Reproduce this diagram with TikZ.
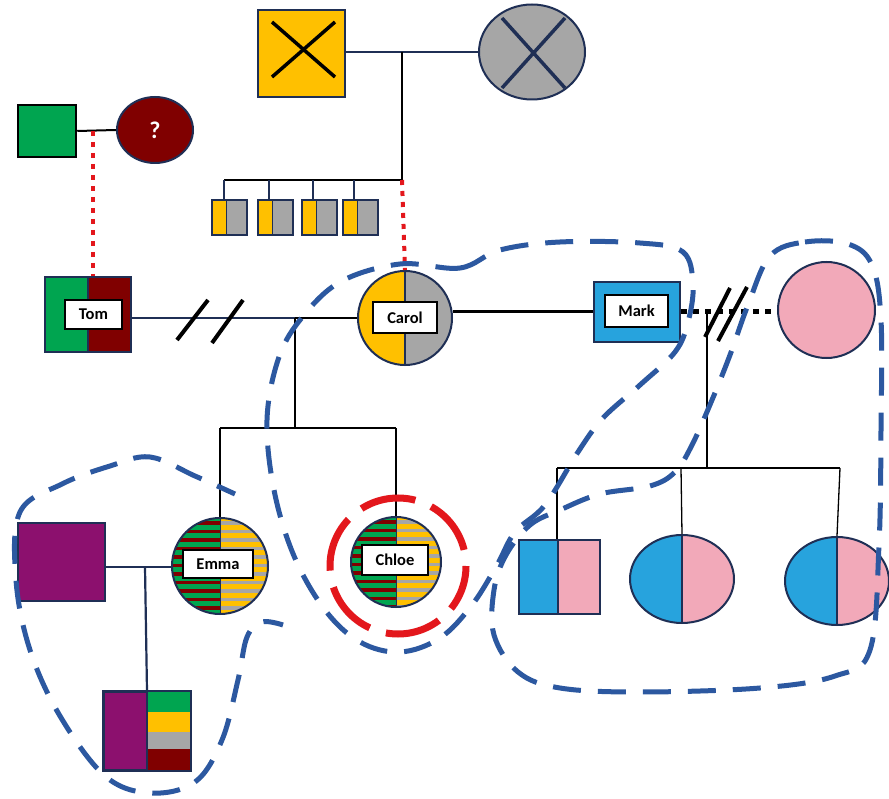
\documentclass[tikz,border=0pt]{standalone}
\usepackage{fontspec}
\setmainfont{Carlito}
\usetikzlibrary{calc,shapes.geometric}
\definecolor{corange}{HTML}{FFC000}
\definecolor{cgray}{HTML}{A6A6A6}
\definecolor{cgreen}{HTML}{00A550}
\definecolor{cdred}{HTML}{800000}
\definecolor{cnavy}{HTML}{1F2F55}
\definecolor{cblue}{HTML}{27A3DD}
\definecolor{cpink}{HTML}{F2A9B9}
\definecolor{cpurple}{HTML}{8C106E}
\definecolor{cdash}{HTML}{2C58A0}
\definecolor{cred}{HTML}{E3171C}
\tikzset{
  person/.style={draw=cnavy, line width=2pt, inner sep=0pt},
  sq/.style 2 args={person, rectangle, minimum width=#1, minimum height=#2},
  el/.style 2 args={person, ellipse, minimum width=#1, minimum height=#2},
  halfLR/.style 2 args={path picture={
     \fill[#1] (path picture bounding box.south west) rectangle (path picture bounding box.north);
     \fill[#2] (path picture bounding box.south) rectangle (path picture bounding box.north east);
     \draw[cnavy, line width=1.5pt] (path picture bounding box.north) -- (path picture bounding box.south);}},
  striped/.style={path picture={
     \fill[cgreen] (path picture bounding box.south west) rectangle (path picture bounding box.north);
     \fill[corange] (path picture bounding box.south) rectangle (path picture bounding box.north east);
     \foreach \k in {0,...,13}{
       \fill[cdred] ([yshift=-\k*8.5pt-3pt]path picture bounding box.north west) rectangle ([yshift=-\k*8.5pt-6.5pt]path picture bounding box.north);
       \fill[cgray] ([yshift=-\k*8.5pt-3pt]path picture bounding box.north) rectangle ([yshift=-\k*8.5pt-6.5pt]path picture bounding box.north east);
     }
     \draw[cnavy, line width=1pt] (path picture bounding box.north) -- (path picture bounding box.south);}},
  lab/.style 2 args={draw=black, line width=2.5pt, fill=white, inner sep=0pt, minimum width=#1, minimum height=#2, font=\bfseries\fontsize{16.5}{17}\selectfont},
  conn/.style={cnavy, line width=2.2pt},
  bconn/.style={black, line width=2.5pt},
  thin/.style={black, line width=1.3pt},
  reddot/.style={cred, line width=4pt, dash pattern=on 5pt off 6pt},
  blkdot/.style={black, line width=5pt, dash pattern=on 6pt off 6pt},
  slash/.style={black, line width=4pt},
  outline/.style={cdash, line width=5pt, dash pattern=on 28pt off 17pt},
}
\begin{document}
\begin{tikzpicture}[x=1pt,y=-1pt]
\useasboundingbox (0,0) rectangle (889,799);
\fill[white] (0,0) rectangle (889,799);

% ---------- grandparents ----------
\node[sq={87pt}{87pt}, fill=corange] (gf) at (301.5,53.5) {};
\node[el={106pt}{95pt}, fill=cgray] (gm) at (532,52) {};
\draw[black, line width=3.5pt] (272,22) -- (335,77) (335,22) -- (272,77);
\draw[cnavy, line width=3.5pt] (502,18) -- (565,88) (565,18) -- (502,88);
\coordinate (gj) at (402,52);
\coordinate (gs) at (402,180);
\draw[conn] (gf.east |- gj) -- (gm.west |- gj);
\draw[bconn] (gj) -- (gs);

% sibship of small boxes
\coordinate (s1) at (224,180);
\draw[bconn] (s1) -- (gs);
\foreach \i/\x/\cx in {1/224/229.5,2/269/275.5,3/313/319.5,4/354/360.5}{
  \node[sq={35pt}{35pt}, fill=cgray, path picture={\fill[corange] (path picture bounding box.south west) rectangle ([xshift=-3pt]path picture bounding box.north); \draw[cnavy,line width=1.5pt] ([xshift=-3pt]path picture bounding box.north) -- ([xshift=-3pt]path picture bounding box.south);}] (sb\i) at (\cx,217.5) {};
  \draw[conn] (\x,180) -- (\x,200);
}

% ---------- Tom's parents ----------
\node[sq={58pt}{52pt}, fill=cgreen, draw=black, line width=2.5pt] (tf) at (47,131) {};
\node[el={76pt}{66pt}, fill=cdred] (tm) at (155,130) {};
\node[text=white, font=\bfseries\fontsize{24}{24}\selectfont] at (tm) {?};
\draw[black, line width=2pt] (tf.east) -- (tm.west);
\coordinate (tj) at (93,131);

% ---------- Tom ----------
\node[sq={86pt}{75pt}, halfLR={cgreen}{cdred}] (tom) at (88,314.5) {};
\node[lab={57pt}{29pt}] (toml) at (93.5,314.5) {Tom};
\draw[reddot] (tj) -- (tj |- tom.north);

% ---------- Carol ----------
\node[person, circle, minimum size=94pt, halfLR={corange}{cgray}] (carol) at (405,318) {};
\node[lab={64pt}{31pt}] (caroll) at (405,317.5) {Carol};
\draw[reddot] (gs) -- (carol.north);

% Tom -- Carol
\coordinate (tc) at (295,318);
\draw[conn] (tom.east |- tc) -- (tc);
\draw[bconn] (tc) -- (carol.west);
\draw[slash] (177,340) -- (208,300) (212,343) -- (243,300);

% ---------- Mark ----------
\node[sq={86pt}{60pt}, fill=cblue] (mark) at (637,312) {};
\node[lab={63pt}{32pt}] (markl) at (636.5,311) {Mark};
\draw[bconn, line width=3pt] (carol.east |- mark.west) -- (mark.west);

% ---------- pink partner ----------
\node[el={97pt}{96pt}, fill=cpink] (pink) at (826.5,310) {};
\draw[blkdot] (mark.east) -- (pink.west |- mark.east);
\draw[slash] (705,337) -- (730,288) (718,341) -- (747,287);
\coordinate (mj) at (707,312);
\coordinate (ms) at (707,468);
\draw[thin] (mj) -- (ms);
\coordinate (ms1) at (557,468);
\coordinate (ms3) at (840,468);
\draw[thin] (ms1) -- (ms3);

% ---------- Mark's children ----------
\node[sq={81pt}{74pt}, fill=cpink, path picture={\fill[cblue] (path picture bounding box.south west) rectangle ([xshift=-1.5pt]path picture bounding box.north); \draw[cnavy,line width=1.5pt] ([xshift=-1.5pt]path picture bounding box.north) -- ([xshift=-1.5pt]path picture bounding box.south);}] (c1) at (559.5,577) {};
\node[el={104pt}{88pt}, halfLR={cblue}{cpink}] (c2) at (682,579) {};
\node[el={104pt}{88pt}, halfLR={cblue}{cpink}] (c3) at (837,581) {};
\draw[thin] (ms1) -- (ms1 |- c1.north);
\draw[thin] (681,468) -- (c2.north);
\draw[thin] (ms3) -- (c3.north);

% ---------- Emma and Chloe ----------
\node[person, circle, minimum size=96pt, striped] (emma) at (220,566) {};
\node[lab={70pt}{28pt}] (emmal) at (218,564) {Emma};
\node[person, circle, minimum size=90pt, striped] (chloe) at (396,562) {};
\node[lab={66pt}{30pt}] (chloel) at (395,560) {Chloe};
\coordinate (cs) at (295,428);
\coordinate (cs1) at (220,428);
\coordinate (cs2) at (396,428);
\draw[bconn] (tc) -- (cs);
\draw[bconn] (cs1) -- (cs2);
\draw[bconn] (cs1) -- (emma.north);
\draw[bconn] (cs2) -- (chloe.north);
\draw[cred, line width=7pt, dash pattern=on 56pt off 17pt, dash phase=10pt] (398,566) circle (68);

% ---------- Emma's family ----------
\node[sq={87pt}{78pt}, fill=cpurple] (pu) at (61.5,562) {};
\coordinate (ej) at (145,567);
\draw[conn] (pu.east |- ej) -- (emma.west |- ej);
\node[sq={86pt}{78pt}, fill=cpurple] (gc) at (147,731) {};
\fill[cgreen] (gc.north) rectangle ($(gc.north east)+(0,21)$);
\fill[corange] ($(gc.north)+(0,21)$) rectangle ($(gc.north east)+(0,41)$);
\fill[cgray] ($(gc.north)+(0,41)$) rectangle ($(gc.north east)+(0,58)$);
\fill[cdred] ($(gc.north)+(0,58)$) rectangle (gc.south east);
\draw[cnavy, line width=1.5pt] (gc.north) -- (gc.south);
\draw[cnavy, line width=2pt] (gc.south west) rectangle (gc.north east);
\draw[conn] (ej) -- (gc.north);

% ---------- dashed outlines ----------
\draw[outline] plot[smooth cycle, tension=0.6] coordinates {
  (400,264) (460,268) (500,250) (560,242) (640,243) (683,252) (693,285) (688,322) (675,352)
  (640,385) (603,418) (578,452) (545,505) (515,532) (497,565) (472,605) (440,638)
  (400,652) (360,642) (325,610) (294,556) (274,490) (267,420) (278,360) (300,320) (340,282)};
\draw[outline] plot[smooth cycle, tension=0.6] coordinates {
  (770,256) (805,242) (848,244) (872,265) (881,320) (881,430) (879,545) (870,650) (835,676)
  (760,688) (640,692) (560,688) (518,672) (494,635) (494,590) (506,555) (530,525) (560,510)
  (600,494) (650,486) (675,472) (692,445) (712,400) (730,355) (748,305)};
\draw[outline, dash phase=8pt] plot[smooth, tension=0.6] coordinates {
  (283,625) (262,622) (247,637) (238,680) (222,740) (195,782) (150,793) (105,776)
  (60,716) (30,650) (16,580) (20,512) (62,484) (110,466) (150,457) (195,476) (235,494)};
\end{tikzpicture}
\end{document}
